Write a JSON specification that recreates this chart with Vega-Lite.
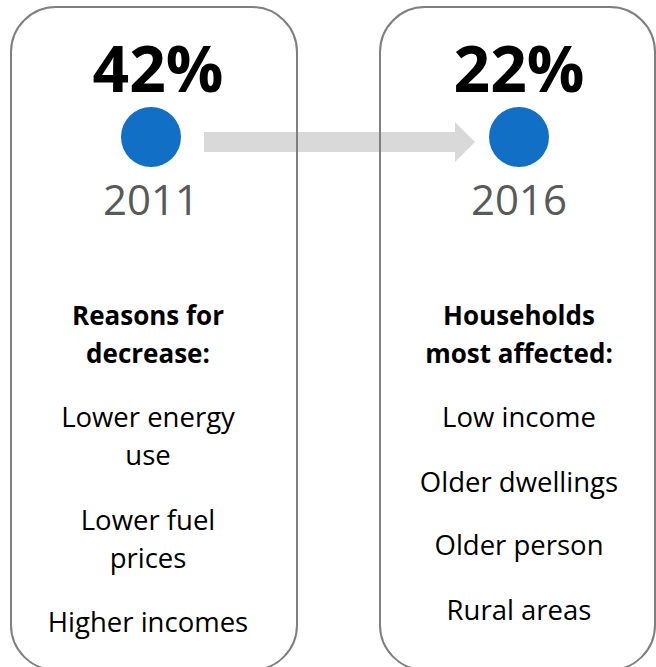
{
  "$schema": "https://vega.github.io/schema/vega-lite/v6.json",
  "width": 656,
  "height": 667,
  "padding": 0,
  "autosize": {"type": "none"},
  "background": "white",
  "config": {"view": {"stroke": null}, "text": {"font": "Open Sans"}},
  "datasets": {
    "panels": [
      {"year": 2011, "share": 0.42},
      {"year": 2016, "share": 0.22}
    ],
    "change": [{"from": 2011, "to": 2016}],
    "notes": [
      {"year": 2011, "row": 8.28, "text": "Reasons for", "kind": "heading"},
      {"year": 2011, "row": 9.25, "text": "decrease:", "kind": "heading"},
      {"year": 2011, "row": 10.88, "text": "Lower energy", "kind": "item"},
      {"year": 2011, "row": 11.85, "text": "use", "kind": "item"},
      {"year": 2011, "row": 13.51, "text": "Lower fuel", "kind": "item"},
      {"year": 2011, "row": 14.48, "text": "prices", "kind": "item"},
      {"year": 2011, "row": 16.10, "text": "Higher incomes", "kind": "item"},
      {"year": 2016, "row": 8.28, "text": "Households", "kind": "heading"},
      {"year": 2016, "row": 9.25, "text": "most affected:", "kind": "heading"},
      {"year": 2016, "row": 10.88, "text": "Low income", "kind": "item"},
      {"year": 2016, "row": 12.53, "text": "Older dwellings", "kind": "item"},
      {"year": 2016, "row": 14.15, "text": "Older person", "kind": "item"},
      {"year": 2016, "row": 15.80, "text": "Rural areas", "kind": "item"}
    ]
  },
  "layer": [
    {
      "data": {"name": "change"},
      "mark": {"type": "rule", "stroke": "#d9d9d9", "strokeWidth": 20, "strokeCap": "butt", "xOffset": 53, "x2Offset": -64},
      "encoding": {
        "x": {"field": "from", "type": "quantitative", "scale": {"domain": [2008.9484, 2017.8614], "nice": false, "zero": false}, "axis": null},
        "x2": {"field": "to"},
        "y": {"datum": 3.619, "type": "quantitative", "scale": {"domain": [0, 17], "reverse": true, "nice": false, "zero": false}, "axis": null}
      }
    },
    {
      "data": {"name": "change"},
      "mark": {"type": "point", "shape": "M-0.5,-1L0.5,0L-0.5,1Z", "size": 1600, "filled": true, "fill": "#d9d9d9", "strokeWidth": 0, "opacity": 1, "xOffset": -54},
      "encoding": {
        "x": {"field": "to", "type": "quantitative", "axis": null},
        "y": {"datum": 3.619, "type": "quantitative", "axis": null}
      }
    },
    {
      "data": {"name": "panels"},
      "transform": [{"filter": "datum.year == 2011"}],
      "mark": {"type": "rect", "filled": false, "stroke": "#7f7f7f", "strokeWidth": 2, "cornerRadius": 45, "xOffset": -140, "x2Offset": 146},
      "encoding": {
        "x": {"field": "year", "type": "quantitative", "axis": null},
        "x2": {"field": "year"},
        "y": {"datum": 0.178, "type": "quantitative", "axis": null},
        "y2": {"datum": 17.077}
      }
    },
    {
      "data": {"name": "panels"},
      "transform": [{"filter": "datum.year == 2016"}],
      "mark": {"type": "rect", "filled": false, "stroke": "#7f7f7f", "strokeWidth": 2, "cornerRadius": 45, "xOffset": -139, "x2Offset": 136},
      "encoding": {
        "x": {"field": "year", "type": "quantitative", "axis": null},
        "x2": {"field": "year"},
        "y": {"datum": 0.178, "type": "quantitative", "axis": null},
        "y2": {"datum": 17.077}
      }
    },
    {
      "data": {"name": "panels"},
      "mark": {"type": "point", "shape": "circle", "size": 3600, "filled": true, "color": "#1170c6", "opacity": 1, "strokeWidth": 0},
      "encoding": {
        "x": {"field": "year", "type": "quantitative", "axis": null},
        "y": {"datum": 3.492, "type": "quantitative", "axis": null}
      }
    },
    {
      "data": {"name": "panels"},
      "mark": {"type": "text", "fontSize": 64, "fontWeight": "bold", "color": "#000000", "align": "center", "baseline": "alphabetic", "dx": {"expr": "datum.year == 2011 ? 7 : 0"}},
      "encoding": {
        "x": {"field": "year", "type": "quantitative", "axis": null},
        "y": {"datum": 2.337, "type": "quantitative", "axis": null},
        "text": {"field": "share", "type": "quantitative", "format": ".0%"}
      }
    },
    {
      "data": {"name": "panels"},
      "mark": {"type": "text", "fontSize": 42, "color": "#595959", "align": "center", "baseline": "alphabetic"},
      "encoding": {
        "x": {"field": "year", "type": "quantitative", "axis": null},
        "y": {"datum": 5.48, "type": "quantitative", "axis": null},
        "text": {"field": "year", "type": "nominal"}
      }
    },
    {
      "data": {"name": "notes"},
      "transform": [{"filter": "datum.kind == 'heading'"}],
      "mark": {"type": "text", "fontSize": 26, "fontWeight": "bold", "color": "#000000", "align": "center", "baseline": "alphabetic", "dx": {"expr": "datum.year == 2011 ? -3 : 0"}},
      "encoding": {
        "x": {"field": "year", "type": "quantitative", "axis": null},
        "y": {"field": "row", "type": "quantitative", "axis": null},
        "text": {"field": "text", "type": "nominal"}
      }
    },
    {
      "data": {"name": "notes"},
      "transform": [{"filter": "datum.kind == 'item'"}],
      "mark": {"type": "text", "fontSize": 27.5, "color": "#000000", "align": "center", "baseline": "alphabetic", "dx": {"expr": "datum.year == 2011 ? -3 : 0"}},
      "encoding": {
        "x": {"field": "year", "type": "quantitative", "axis": null},
        "y": {"field": "row", "type": "quantitative", "axis": null},
        "text": {"field": "text", "type": "nominal"}
      }
    }
  ]
}
